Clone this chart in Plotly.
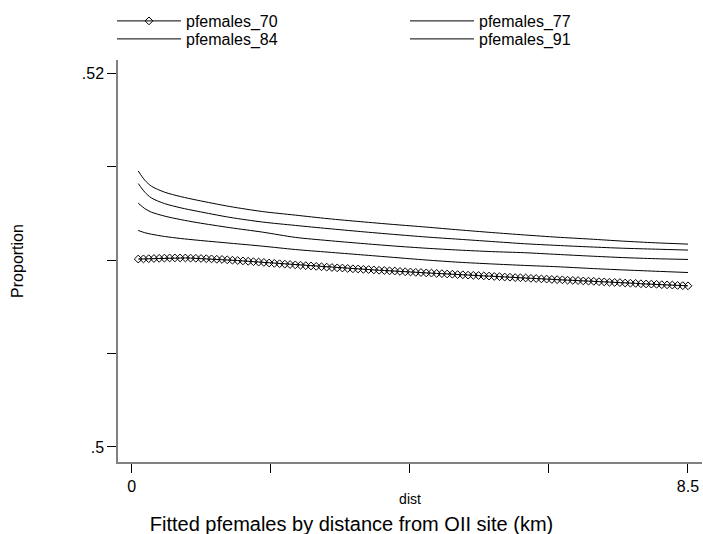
import plotly.graph_objects as go

# distance grid of the densely plotted series (pfemales_70)
dist_fine = [0.10, 0.18, 0.26, 0.34, 0.42, 0.50, 0.58, 0.66, 0.74, 0.82,
             0.90, 0.98, 1.06, 1.14, 1.22, 1.30, 1.38, 1.46, 1.54, 1.62,
             1.70, 1.78, 1.86, 1.94, 2.02, 2.10, 2.18, 2.26, 2.34, 2.42,
             2.50, 2.58, 2.66, 2.74, 2.82, 2.90, 2.98, 3.06, 3.14, 3.22,
             3.30, 3.38, 3.46, 3.54, 3.62, 3.70, 3.78, 3.86, 3.94, 4.02,
             4.10, 4.18, 4.26, 4.34, 4.42, 4.50, 4.58, 4.66, 4.74, 4.82,
             4.90, 4.98, 5.06, 5.14, 5.22, 5.30, 5.38, 5.46, 5.54, 5.62,
             5.70, 5.78, 5.86, 5.94, 6.02, 6.10, 6.18, 6.26, 6.34, 6.42,
             6.50, 6.58, 6.66, 6.74, 6.82, 6.90, 6.98, 7.06, 7.14, 7.22,
             7.30, 7.38, 7.46, 7.54, 7.62, 7.70, 7.78, 7.86, 7.94, 8.02,
             8.10, 8.18, 8.26, 8.34, 8.42, 8.50]

pfemales_70 = [0.51005, 0.51006, 0.51007, 0.51008, 0.51009, 0.51010, 0.51011, 0.51011, 0.51011, 0.51011,
               0.51010, 0.51009, 0.51008, 0.51007, 0.51006, 0.51004, 0.51003, 0.51001, 0.50999, 0.50997,
               0.50995, 0.50993, 0.50991, 0.50989, 0.50987, 0.50984, 0.50982, 0.50980, 0.50978, 0.50976,
               0.50974, 0.50972, 0.50970, 0.50968, 0.50966, 0.50964, 0.50962, 0.50960, 0.50958, 0.50957,
               0.50955, 0.50953, 0.50952, 0.50950, 0.50949, 0.50947, 0.50945, 0.50944, 0.50942, 0.50941,
               0.50939, 0.50937, 0.50936, 0.50934, 0.50933, 0.50931, 0.50930, 0.50928, 0.50927, 0.50925,
               0.50924, 0.50922, 0.50921, 0.50919, 0.50918, 0.50917, 0.50915, 0.50914, 0.50912, 0.50911,
               0.50909, 0.50908, 0.50906, 0.50905, 0.50904, 0.50902, 0.50901, 0.50899, 0.50898, 0.50896,
               0.50895, 0.50894, 0.50892, 0.50891, 0.50890, 0.50888, 0.50887, 0.50886, 0.50884, 0.50883,
               0.50881, 0.50880, 0.50879, 0.50877, 0.50876, 0.50875, 0.50873, 0.50872, 0.50871, 0.50870,
               0.50868, 0.50867, 0.50866, 0.50864, 0.50863, 0.50862]

# distance grid of the smooth line series
dist = [0.1, 0.2, 0.3, 0.5, 0.75, 1.0, 1.5, 2.0, 2.5, 3.0, 3.5,
        4.0, 4.5, 5.0, 5.5, 6.0, 6.5, 7.0, 7.5, 8.0, 8.5]

pfemales_77 = [0.51158, 0.51146, 0.51138, 0.51126, 0.51115, 0.51106, 0.51090, 0.51074, 0.51056, 0.51042, 0.51028,
               0.51014, 0.51000, 0.50988, 0.50979, 0.50971, 0.50964, 0.50955, 0.50947, 0.50940, 0.50933]
pfemales_84 = [0.51304, 0.51275, 0.51256, 0.51235, 0.51216, 0.51200, 0.51173, 0.51149, 0.51121, 0.51104, 0.51089,
               0.51075, 0.51063, 0.51053, 0.51045, 0.51039, 0.51030, 0.51021, 0.51013, 0.51007, 0.51003]
pfemales_91 = [0.51409, 0.51363, 0.51332, 0.51302, 0.51279, 0.51261, 0.51228, 0.51203, 0.51185, 0.51168, 0.51152,
               0.51137, 0.51123, 0.51111, 0.51099, 0.51087, 0.51078, 0.51070, 0.51063, 0.51058, 0.51053]
pfemales_98 = [0.51476, 0.51427, 0.51395, 0.51363, 0.51339, 0.51320, 0.51286, 0.51259, 0.51240, 0.51221, 0.51205,
               0.51190, 0.51176, 0.51161, 0.51147, 0.51134, 0.51122, 0.51112, 0.51101, 0.51092, 0.51085]

x_tickvals = [0, 2.125, 4.25, 6.375, 8.5]
x_ticktext = ["0", "", "", "", "8.5"]
y_tickvals = [0.5, 0.505, 0.51, 0.515, 0.52]
y_ticktext = [".5", "", "", "", ".52"]

FONT = "Liberation Sans, Arial, sans-serif"

fig = go.Figure()
fig.add_trace(go.Scatter(
    x=dist_fine, y=pfemales_70, name="pfemales_70", mode="lines+markers",
    legend="legend",
    line=dict(color="black", width=1),
    marker=dict(symbol="diamond-open", size=6, color="black", line=dict(width=1))))
for name, vals, lg in [("pfemales_77", pfemales_77, "legend2"),
                       ("pfemales_84", pfemales_84, "legend3"),
                       ("pfemales_91", pfemales_91, "legend4")]:
    fig.add_trace(go.Scatter(
        x=dist, y=vals, name=name, mode="lines", legend=lg,
        line=dict(color="black", width=1, shape="spline", smoothing=0.8)))
fig.add_trace(go.Scatter(
    x=dist, y=pfemales_98, name="pfemales_98", mode="lines", showlegend=False,
    line=dict(color="black", width=1, shape="spline", smoothing=0.8)))

legend_common = dict(orientation="h", xanchor="left", yanchor="middle",
                     font=dict(size=16), itemwidth=64,
                     bgcolor="rgba(0,0,0,0)", borderwidth=0)
col1_x, col2_x = -0.0103, 0.4914
row1_y, row2_y = 1 + 39 / 402, 1 + 21 / 402

fig.update_layout(
    width=703, height=534,
    margin=dict(l=118, r=1, t=60, b=72),
    paper_bgcolor="white", plot_bgcolor="white",
    font=dict(family=FONT, color="black", size=15),
    showlegend=True,
    legend=dict(x=col1_x, y=row1_y, **legend_common),
    legend2=dict(x=col2_x, y=row1_y, **legend_common),
    legend3=dict(x=col1_x, y=row2_y, **legend_common),
    legend4=dict(x=col2_x, y=row2_y, **legend_common),
    title=dict(text="Fitted pfemales by distance from OII site (km)",
               xref="container", x=0.5, xanchor="center",
               yref="container", y=0.006, yanchor="bottom",
               font=dict(size=20)),
)
fig.update_xaxes(
    range=[-0.209, 8.714], tickvals=x_tickvals, ticktext=x_ticktext,
    showline=True, linecolor="#808080", linewidth=1.5, mirror=False,
    ticks="outside", ticklen=9, tickwidth=1, tickcolor="black",
    showgrid=False, zeroline=False, tickfont=dict(size=16),
    title=dict(text="dist", font=dict(size=14), standoff=0))
fig.update_yaxes(
    range=[0.499197, 0.520696], tickvals=y_tickvals, ticktext=y_ticktext,
    showline=True, linecolor="#808080", linewidth=1.5, mirror=False,
    ticks="outside", ticklen=9, tickwidth=1, tickcolor="black",
    showgrid=False, zeroline=False, tickfont=dict(size=16),
    title=dict(text="Proportion", font=dict(size=16), standoff=54))

fig.write_html("out.html")
